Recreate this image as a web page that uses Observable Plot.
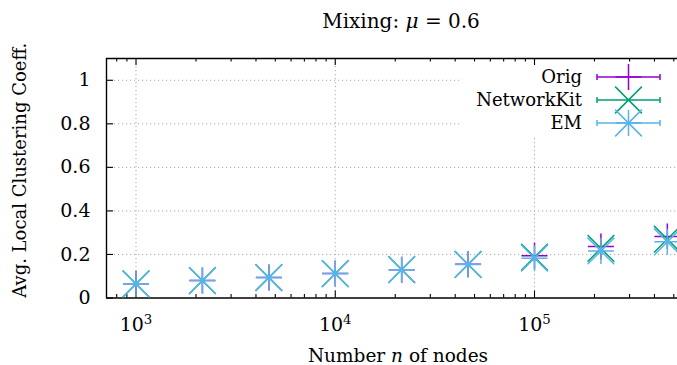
<!DOCTYPE html>
<html><head><meta charset="utf-8">
<script src="https://cdn.jsdelivr.net/npm/d3@7"></script>
<script src="https://cdn.jsdelivr.net/npm/@observablehq/plot@0.6"></script>
<style>body{margin:0;background:#fff} svg{display:block} svg text{font-family:'DejaVu Serif',serif !important}</style>
</head><body><div id="chart"></div>
<script>
// ---- data ----
const nodes     = [1000, 2154, 4642, 10000, 21544, 46416, 100000, 215443, 464159];
const orig      = [0.066, 0.080, 0.094, 0.113, 0.130, 0.155, 0.194, 0.237, 0.283];
const networkit = [0.065, 0.080, 0.094, 0.112, 0.130, 0.154, 0.188, 0.228, 0.270];
const em        = [0.065, 0.080, 0.094, 0.112, 0.130, 0.154, 0.183, 0.216, 0.258];
const seriesNames  = ["Orig", "NetworkKit", "EM"];
const seriesColors = ["#9400d3", "#009e73", "#56b4e9"];
const xTickValues  = [1e3, 1e4, 1e5];
const yTickValues  = [0, 0.2, 0.4, 0.6, 0.8, 1];
const yTickLabels  = ["0", "0.2", "0.4", "0.6", "0.8", "1"];
const titleText  = "Mixing: μ = 0.6";
const xLabelText = "Number n of nodes";
const yLabelText = "Avg. Local Clustering Coeff.";

// ---- layout ----
const W = 677, H = 365;
const mL = 106, mR = 0, mT = 58, mB = 67.5;
const xDomain = [711, 522000];
const yDomain = [0, 1.1];
const FONT = "'DejaVu Serif', serif";
const pxPerDecade = (W - mL - mR) / Math.log10(xDomain[1] / xDomain[0]);
const pxPerUnitY = (H - mT - mB) / (yDomain[1] - yDomain[0]);

const table = (ys) => nodes.map((n, i) => ({n, v: ys[i]}));
const D = [table(orig), table(networkit), table(em)];

const minor = [];
for (const dec of [100, 1000, 10000, 100000]) for (let k = 2; k <= 9; k++) {
  const v = dec * k; if (v > xDomain[0] && v < xDomain[1]) minor.push(v);
}
const majLen = 7, minLen = 3.5;
const dyMaj = majLen / pxPerUnitY, dyMin = minLen / pxPerUnitY;
const xFactor = Math.pow(10, majLen / pxPerDecade);

const grid = {stroke: "#a8a8a8", strokeWidth: 1, strokeDasharray: "1.2,2.8"};
const frameStyle = {stroke: "#000", strokeWidth: 1.4};
const tickStyle = {stroke: "#000", strokeWidth: 1.1};
const rPlus = 8.4, rTimes = 12.2;

const markSeries = (i) => {
  const c = seriesColors[i];
  const base = {x: "n", y: "v", stroke: c, strokeWidth: 1.5};
  if (i === 0) return [Plot.dot(D[i], {...base, symbol: "plus", r: rPlus})];
  if (i === 1) return [Plot.dot(D[i], {...base, symbol: "times", r: rTimes})];
  return [
    Plot.dot(D[i], {...base, symbol: "plus", r: rPlus}),
    Plot.dot(D[i], {...base, symbol: "times", r: rTimes}),
    Plot.dot(D[i], {x: "n", y: "v", fill: c, r: 2.6})
  ];
};

const plot = Plot.plot({
  width: W, height: H,
  marginLeft: mL, marginRight: mR, marginTop: mT, marginBottom: mB,
  style: {fontFamily: FONT, fontSize: "18px", background: "#fff", overflow: "visible"},
  x: {type: "log", domain: xDomain, axis: null},
  y: {domain: yDomain, axis: null},
  marks: [
    Plot.ruleY(yTickValues.filter(d => d > 0), grid),
    Plot.ruleX(xTickValues, grid),
    Plot.ruleY([yDomain[0]], frameStyle),
    Plot.ruleY([yDomain[1]], frameStyle),
    Plot.ruleX([xDomain[0]], frameStyle),
    Plot.ruleX(xTickValues, {...tickStyle, y1: yDomain[0], y2: yDomain[0] + dyMaj}),
    Plot.ruleX(minor, {...tickStyle, y1: yDomain[0], y2: yDomain[0] + dyMin}),
    Plot.ruleX(xTickValues, {...tickStyle, y1: yDomain[1], y2: yDomain[1] - dyMaj}),
    Plot.ruleX(minor, {...tickStyle, y1: yDomain[1], y2: yDomain[1] - dyMin}),
    Plot.ruleY(yTickValues, {...tickStyle, x1: xDomain[0], x2: xDomain[0] * xFactor}),
    Plot.axisX(xTickValues, {tickSize: 0, tickPadding: 19, fontSize: 19, fill: "#000",
      tickFormat: d => "10^" + Math.round(Math.log10(d)), label: null}),
    Plot.axisY(yTickValues, {tickSize: 0, tickPadding: 16, fontSize: 19, fill: "#000",
      tickFormat: (d, i) => yTickLabels[i], label: null}),
    ...markSeries(0), ...markSeries(1), ...markSeries(2),
    Plot.text([titleText], {frameAnchor: "top", textAnchor: "middle", dx: 9, dy: -37, lineAnchor: "middle", fontSize: 20, fill: "#000"}),
    Plot.text([xLabelText], {frameAnchor: "bottom", textAnchor: "middle", dx: 6, dy: 58, lineAnchor: "middle", fontSize: 18.5, fill: "#000"}),
    Plot.text([yLabelText], {frameAnchor: "left", textAnchor: "middle", dx: -86, dy: -8, rotate: -90, lineAnchor: "middle", fontSize: 18, fill: "#000"})
  ]
});

const svg = d3.select(plot);
svg.selectAll("text").each(function () {
  const t = this.textContent;
  const sel = d3.select(this);
  let m;
  if ((m = t.match(/^10\^(\d)$/))) {
    sel.text(null);
    sel.append("tspan").text("10");
    sel.append("tspan").attr("dy", "-0.5em").attr("font-size", "0.7em").text(m[1]);
  } else if (t === titleText) {
    sel.text(null);
    sel.append("tspan").text("Mixing: ");
    sel.append("tspan").attr("font-style", "italic").text("μ");
    sel.append("tspan").text(" = 0.6");
  } else if (t === xLabelText) {
    sel.text(null);
    sel.append("tspan").text("Number ");
    sel.append("tspan").attr("font-style", "italic").text("n");
    sel.append("tspan").text(" of nodes");
  }
});

const key = svg.append("g").attr("font-family", FONT).attr("font-size", 18);
key.append("rect").attr("x", 462).attr("y", 66).attr("width", W - 462).attr("height", 72).attr("fill", "#fff");
const rowY = [77, 100, 123];
const symPlus = d3.symbol(d3.symbolPlus, Math.PI * rPlus * rPlus)();
const symTimes = d3.symbol(d3.symbolTimes, Math.PI * rTimes * rTimes)();
seriesNames.forEach((name, i) => {
  const y = rowY[i], c = seriesColors[i];
  key.append("text").attr("x", 582).attr("y", y).attr("dy", "0.35em").attr("text-anchor", "end").attr("fill", "#000").text(name);
  const g = key.append("g").attr("stroke", c).attr("stroke-width", 1.5).attr("fill", "none");
  g.append("line").attr("x1", 597).attr("x2", 660).attr("y1", y).attr("y2", y);
  g.append("line").attr("x1", 597).attr("x2", 597).attr("y1", y - 3).attr("y2", y + 3);
  g.append("line").attr("x1", 660).attr("x2", 660).attr("y1", y - 3).attr("y2", y + 3);
  if (i === 0 || i === 2) g.append("path").attr("transform", `translate(628.5,${y})`).attr("d", symPlus);
  if (i === 1 || i === 2) g.append("path").attr("transform", `translate(628.5,${y})`).attr("d", symTimes);
});

document.getElementById("chart").appendChild(plot);
</script>
</body></html>
